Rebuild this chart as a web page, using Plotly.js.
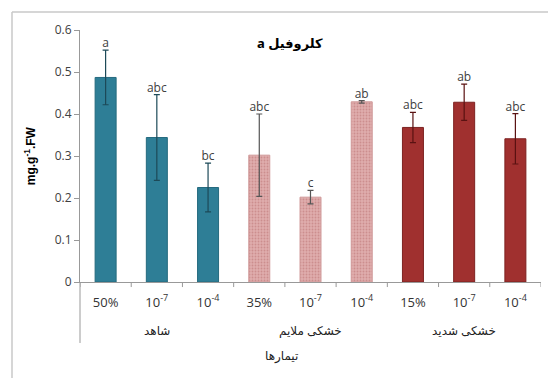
<!DOCTYPE html>
<html><head><meta charset="utf-8">
<script src="https://cdn.plot.ly/plotly-3.0.1.min.js"></script>
<style>html,body{margin:0;padding:0;background:#fff}#c{width:548px;height:378px}</style>
</head><body><div id="c"></div>
<script>
var tickLabels = ["50%","10<sup>-7</sup>","10<sup>-4</sup>","35%","10<sup>-7</sup>","10<sup>-4</sup>","15%","10<sup>-7</sup>","10<sup>-4</sup>"];
var groupNames = ["شاهد","خشکی ملایم","خشکی شدید"];
var controlVals = [0.487, 0.344, 0.225];
var controlErr  = [0.065, 0.102, 0.058];
var mildVals    = [0.302, 0.202, 0.429];
var mildErr     = [0.098, 0.016, 0.003];
var severeVals  = [0.368, 0.428, 0.341];
var severeErr   = [0.036, 0.043, 0.060];
var letters = ["a","abc","bc","abc","c","ab","abc","ab","abc"];

var xC = [0,1,2], xM = [3,4,5], xS = [6,7,8];
var allVals = controlVals.concat(mildVals, severeVals);
var allErr = controlErr.concat(mildErr, severeErr);
var tops = allVals.map(function(v,i){return v+allErr[i];});
var xAll = [0,1,2,3,4,5,6,7,8];

function bar(x,y,e,color,line,ecol,pattern){
  var m = {color:color, line:{color:line,width:1}};
  if(pattern) m.pattern = pattern;
  return {type:'bar', x:x, y:y, width:0.41, marker:m,
    error_y:{type:'data', array:e, visible:true, color:ecol, thickness:1.2, width:3},
    hoverinfo:'none', showlegend:false};
}
var data = [
  bar(xC, controlVals, controlErr, '#2E7E96', '#256a7f', '#1d4a58'),
  bar(xM, mildVals, mildErr, '#DCA6A6', '#d09a9a', '#555555', {shape:'.', fgcolor:'#cc8e8e', bgcolor:'#e0adad', size:3, solidity:0.3}),
  bar(xS, severeVals, severeErr, '#A0302F', '#7d2221', '#5a1212'),
  {type:'scatter', mode:'text', x:xAll, y:tops, text:letters, textposition:'top center',
   textfont:{family:'Open Sans, Liberation Sans', size:12, color:'#404040'}, hoverinfo:'none', showlegend:false, cliponaxis:false}
];

var shapes = [];
for (var i=0;i<=9;i++){
  shapes.push({type:'line', xref:'x', yref:'paper', x0:i-0.5, x1:i-0.5, y0:0, y1:-0.02, line:{color:'#999',width:1}});
}
shapes.push({type:'line', xref:'paper', yref:'paper', x0:0, x1:0, y0:0, y1:-0.242, line:{color:'#999',width:1}});
shapes.push({type:'line', xref:'paper', yref:'paper', x0:-0.1475, x1:-0.1475, y0:1.0714, y1:-0.4, line:{color:'#c8c8c8',width:1.5}});
shapes.push({type:'line', xref:'paper', yref:'paper', x0:-0.1475, x1:1.1, y0:1.0714, y1:1.0714, line:{color:'#c8c8c8',width:1.5}});

var gFont = {family:'Noto Sans, DejaVu Sans', size:12, color:'#222'};
var annotations = [
  {text:'a کلروفیل', xref:'paper', yref:'paper', x:0.455, y:0.95, xanchor:'center', yanchor:'middle', showarrow:false,
   font:{family:'Noto Sans, DejaVu Sans', size:13, color:'#000', weight:'bold'}},
  {text:'<b>mg.g<sup>-1</sup>.FW</b>', xref:'paper', yref:'paper', x:-0.108, y:0.5, xanchor:'center', yanchor:'middle', textangle:-90, showarrow:false,
   font:{family:'Liberation Sans, Arial', size:12, color:'#000'}},
  {text:groupNames[0], xref:'x', yref:'paper', x:1, y:-0.194, xanchor:'center', yanchor:'middle', showarrow:false, font:gFont},
  {text:groupNames[1], xref:'x', yref:'paper', x:4, y:-0.194, xanchor:'center', yanchor:'middle', showarrow:false, font:gFont},
  {text:groupNames[2], xref:'x', yref:'paper', x:7, y:-0.194, xanchor:'center', yanchor:'middle', showarrow:false, font:gFont},
  {text:'تیمارها', xref:'paper', yref:'paper', x:0.438, y:-0.29, xanchor:'center', yanchor:'middle', showarrow:false, font:gFont}
];

var layout = {
  width:548, height:378,
  margin:{l:80, r:7, t:30, b:96},
  paper_bgcolor:'#fff', plot_bgcolor:'#fff',
  barmode:'overlay',
  font:{family:'Open Sans, Liberation Sans', color:'#404040'},
  xaxis:{range:[-0.5,8.5], tickmode:'array', tickvals:xAll, ticktext:tickLabels,
    showline:true, linecolor:'#999', linewidth:1, showgrid:false, zeroline:false,
    ticks:'outside', ticklen:8, tickcolor:'rgba(0,0,0,0)',
    tickfont:{family:'Open Sans, Liberation Sans', size:13, color:'#333'}, fixedrange:true},
  yaxis:{range:[0,0.6], tickmode:'array', tickvals:[0,0.1,0.2,0.3,0.4,0.5,0.6],
    ticktext:['0','0.1','0.2','0.3','0.4','0.5','0.6'],
    showline:true, linecolor:'#999', linewidth:1, showgrid:false, zeroline:false,
    ticks:'outside', ticklen:5, tickcolor:'#999',
    tickfont:{family:'Open Sans, Liberation Sans', size:12, color:'#404040'}, fixedrange:true},
  shapes:shapes, annotations:annotations
};
Plotly.newPlot('c', data, layout, {staticPlot:true, displayModeBar:false});
</script></body></html>
